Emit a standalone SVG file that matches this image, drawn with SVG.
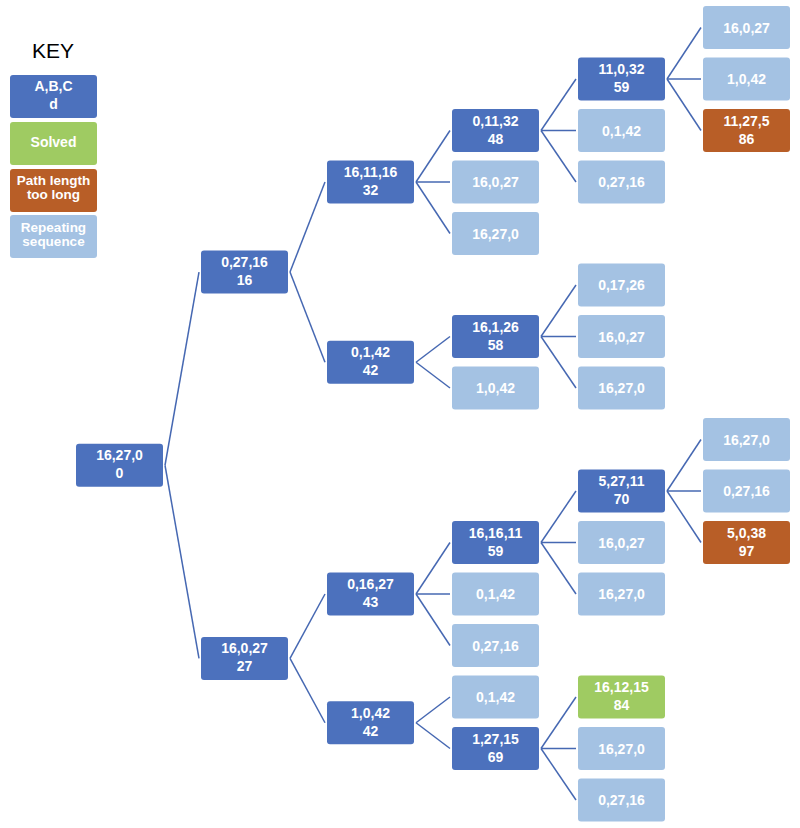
<svg xmlns="http://www.w3.org/2000/svg" width="800" height="828" viewBox="0 0 800 828">
<style>
rect{rx:3px;ry:3px}
.d{fill:#4C71BD}
.l{fill:#A4C2E3}
.g{fill:#9FCB62}
.o{fill:#B85E27}
text{font-family:"Liberation Sans",Arial,Helvetica,sans-serif;font-weight:bold;font-size:14px;fill:#fff;text-anchor:middle}
.key{font-weight:normal;font-size:21px;fill:#000}
.k2{font-size:13.5px}
#connectors line{stroke:#4668B2;stroke-width:1.5;fill:none}
</style>
<rect x="0" y="0" width="800" height="828" style="fill:#fff"/>
<text class="key" x="53" y="58">KEY</text>
<g id="key-node"><rect class="d" x="10" y="75" width="87" height="43"/><text x="53.5" y="91">A,B,C</text><text x="53.5" y="109">d</text></g>
<g id="key-solved"><rect class="g" x="10" y="122" width="87" height="43"/><text x="53.5" y="147">Solved</text></g>
<g id="key-long"><rect class="o" x="10" y="169" width="87" height="43"/><text class="k2" x="53.5" y="185">Path length</text><text class="k2" x="53.5" y="199">too long</text></g>
<g id="key-repeat"><rect class="l" x="10" y="215" width="87" height="43"/><text class="k2" x="53.5" y="232">Repeating</text><text class="k2" x="53.5" y="246">sequence</text></g>

<g id="connectors">
<line x1="165" y1="465.25" x2="199" y2="272.1"/>
<line x1="165" y1="465.25" x2="199" y2="658.4"/>
<line x1="290" y1="272.1" x2="325" y2="182"/>
<line x1="290" y1="272.1" x2="325" y2="362.25"/>
<line x1="290" y1="658.4" x2="325" y2="594"/>
<line x1="290" y1="658.4" x2="325" y2="722.75"/>
<line x1="416" y1="182" x2="450" y2="130.5"/>
<line x1="416" y1="182" x2="450" y2="182"/>
<line x1="416" y1="182" x2="450" y2="233.5"/>
<line x1="416" y1="362.25" x2="450" y2="336.5"/>
<line x1="416" y1="362.25" x2="450" y2="388"/>
<line x1="416" y1="594" x2="450" y2="542.5"/>
<line x1="416" y1="594" x2="450" y2="594"/>
<line x1="416" y1="594" x2="450" y2="645.5"/>
<line x1="416" y1="722.75" x2="450" y2="697"/>
<line x1="416" y1="722.75" x2="450" y2="748.5"/>
<line x1="541" y1="130.5" x2="576" y2="79"/>
<line x1="541" y1="130.5" x2="576" y2="130.5"/>
<line x1="541" y1="130.5" x2="576" y2="182"/>
<line x1="541" y1="336.5" x2="576" y2="285"/>
<line x1="541" y1="336.5" x2="576" y2="336.5"/>
<line x1="541" y1="336.5" x2="576" y2="388"/>
<line x1="541" y1="542.5" x2="576" y2="491"/>
<line x1="541" y1="542.5" x2="576" y2="542.5"/>
<line x1="541" y1="542.5" x2="576" y2="594"/>
<line x1="541" y1="748.5" x2="576" y2="697"/>
<line x1="541" y1="748.5" x2="576" y2="748.5"/>
<line x1="541" y1="748.5" x2="576" y2="800"/>
<line x1="667" y1="79" x2="701" y2="27.5"/>
<line x1="667" y1="79" x2="701" y2="79"/>
<line x1="667" y1="79" x2="701" y2="130.5"/>
<line x1="667" y1="491" x2="701" y2="439.5"/>
<line x1="667" y1="491" x2="701" y2="491"/>
<line x1="667" y1="491" x2="701" y2="542.5"/>
</g>

<g id="n-root"><rect class="d" x="76" y="443.75" width="87" height="43"/><text x="119.5" y="460.25">16,27,0</text><text x="119.5" y="478.25">0</text></g>

<g id="n-a"><rect class="d" x="201" y="250.6" width="87" height="43"/><text x="244.5" y="267.1">0,27,16</text><text x="244.5" y="285.1">16</text></g>
<g id="n-b"><rect class="d" x="201" y="636.9" width="87" height="43"/><text x="244.5" y="653.4">16,0,27</text><text x="244.5" y="671.4">27</text></g>

<g id="n-aa"><rect class="d" x="327" y="160.5" width="87" height="43"/><text x="370.5" y="177">16,11,16</text><text x="370.5" y="195">32</text></g>
<g id="n-ab"><rect class="d" x="327" y="340.75" width="87" height="43"/><text x="370.5" y="357.25">0,1,42</text><text x="370.5" y="375.25">42</text></g>
<g id="n-ba"><rect class="d" x="327" y="572.5" width="87" height="43"/><text x="370.5" y="589">0,16,27</text><text x="370.5" y="607">43</text></g>
<g id="n-bb"><rect class="d" x="327" y="701.25" width="87" height="43"/><text x="370.5" y="717.75">1,0,42</text><text x="370.5" y="735.75">42</text></g>

<g id="n-aaa"><rect class="d" x="452" y="109" width="87" height="43"/><text x="495.5" y="125.5">0,11,32</text><text x="495.5" y="143.5">48</text></g>
<g id="n-aab"><rect class="l" x="452" y="160.5" width="87" height="43"/><text x="495.5" y="187">16,0,27</text></g>
<g id="n-aac"><rect class="l" x="452" y="212" width="87" height="43"/><text x="495.5" y="238.5">16,27,0</text></g>
<g id="n-aba"><rect class="d" x="452" y="315" width="87" height="43"/><text x="495.5" y="331.5">16,1,26</text><text x="495.5" y="349.5">58</text></g>
<g id="n-abb"><rect class="l" x="452" y="366.5" width="87" height="43"/><text x="495.5" y="393">1,0,42</text></g>
<g id="n-baa"><rect class="d" x="452" y="521" width="87" height="43"/><text x="495.5" y="537.5">16,16,11</text><text x="495.5" y="555.5">59</text></g>
<g id="n-bab"><rect class="l" x="452" y="572.5" width="87" height="43"/><text x="495.5" y="599">0,1,42</text></g>
<g id="n-bac"><rect class="l" x="452" y="624" width="87" height="43"/><text x="495.5" y="650.5">0,27,16</text></g>
<g id="n-bba"><rect class="l" x="452" y="675.5" width="87" height="43"/><text x="495.5" y="702">0,1,42</text></g>
<g id="n-bbb"><rect class="d" x="452" y="727" width="87" height="43"/><text x="495.5" y="743.5">1,27,15</text><text x="495.5" y="761.5">69</text></g>

<g id="n-aaaa"><rect class="d" x="578" y="57.5" width="87" height="43"/><text x="621.5" y="74">11,0,32</text><text x="621.5" y="92">59</text></g>
<g id="n-aaab"><rect class="l" x="578" y="109" width="87" height="43"/><text x="621.5" y="135.5">0,1,42</text></g>
<g id="n-aaac"><rect class="l" x="578" y="160.5" width="87" height="43"/><text x="621.5" y="187">0,27,16</text></g>
<g id="n-abaa"><rect class="l" x="578" y="263.5" width="87" height="43"/><text x="621.5" y="290">0,17,26</text></g>
<g id="n-abab"><rect class="l" x="578" y="315" width="87" height="43"/><text x="621.5" y="341.5">16,0,27</text></g>
<g id="n-abac"><rect class="l" x="578" y="366.5" width="87" height="43"/><text x="621.5" y="393">16,27,0</text></g>
<g id="n-baaa"><rect class="d" x="578" y="469.5" width="87" height="43"/><text x="621.5" y="486">5,27,11</text><text x="621.5" y="504">70</text></g>
<g id="n-baab"><rect class="l" x="578" y="521" width="87" height="43"/><text x="621.5" y="547.5">16,0,27</text></g>
<g id="n-baac"><rect class="l" x="578" y="572.5" width="87" height="43"/><text x="621.5" y="599">16,27,0</text></g>
<g id="n-bbba"><rect class="g" x="578" y="675.5" width="87" height="43"/><text x="621.5" y="692">16,12,15</text><text x="621.5" y="710">84</text></g>
<g id="n-bbbb"><rect class="l" x="578" y="727" width="87" height="43"/><text x="621.5" y="753.5">16,27,0</text></g>
<g id="n-bbbc"><rect class="l" x="578" y="778.5" width="87" height="43"/><text x="621.5" y="805">0,27,16</text></g>

<g id="n-aaaaa"><rect class="l" x="703" y="6" width="87" height="43"/><text x="746.5" y="32.5">16,0,27</text></g>
<g id="n-aaaab"><rect class="l" x="703" y="57.5" width="87" height="43"/><text x="746.5" y="84">1,0,42</text></g>
<g id="n-aaaac"><rect class="o" x="703" y="109" width="87" height="43"/><text x="746.5" y="125.5">11,27,5</text><text x="746.5" y="143.5">86</text></g>
<g id="n-baaaa"><rect class="l" x="703" y="418" width="87" height="43"/><text x="746.5" y="444.5">16,27,0</text></g>
<g id="n-baaab"><rect class="l" x="703" y="469.5" width="87" height="43"/><text x="746.5" y="496">0,27,16</text></g>
<g id="n-baaac"><rect class="o" x="703" y="521" width="87" height="43"/><text x="746.5" y="537.5">5,0,38</text><text x="746.5" y="555.5">97</text></g>
</svg>
